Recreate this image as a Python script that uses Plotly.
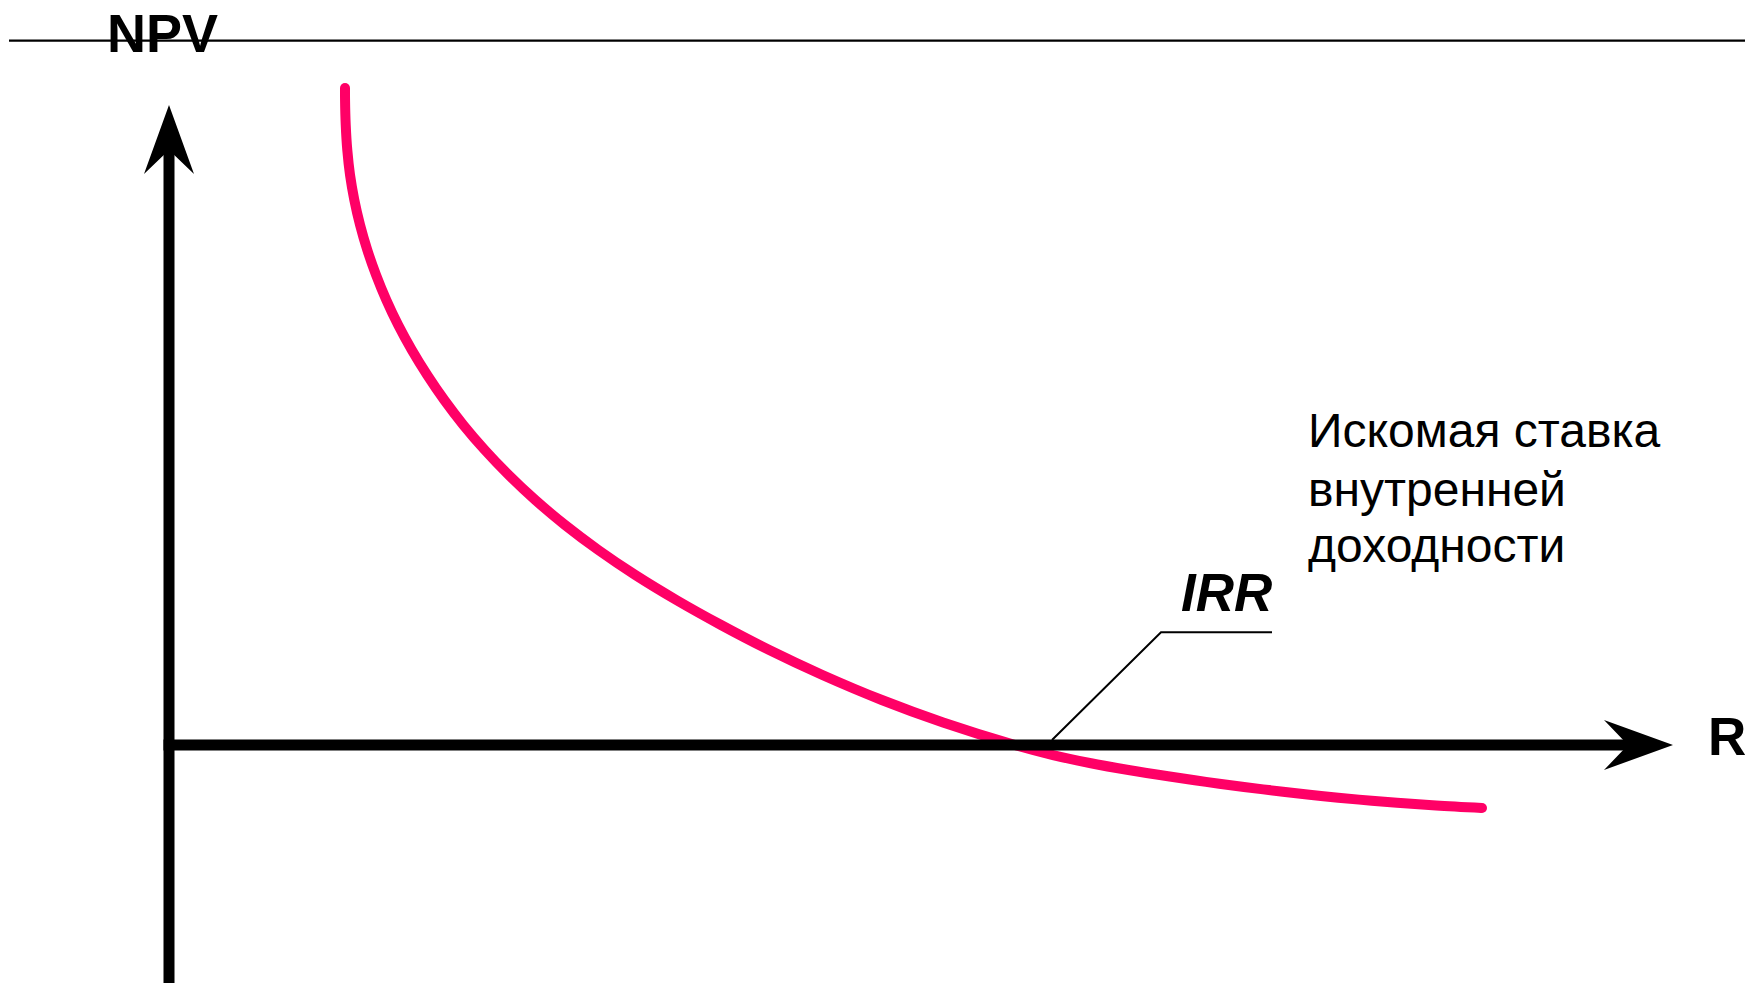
import plotly.graph_objects as go

# ---- data ----
R_RATE = [4.161, 4.162, 4.178, 4.215, 4.280, 4.381, 4.517, 4.688, 4.895, 5.137,
          5.418, 5.740, 6.104, 6.508, 6.960, 7.466, 8.031, 8.660, 9.363, 10.149,
          11.024, 11.993, 13.051, 14.191, 15.447, 16.851, 18.300, 20.000,
          20.898, 21.797, 22.719, 23.617, 24.515, 25.414, 26.336, 27.234,
          28.132, 29.031, 29.953, 31.040]
NPV = [100.31, 98.47, 94.66, 90.84, 87.02, 83.21, 79.39, 75.57, 71.76, 67.94,
       64.12, 60.31, 56.49, 52.67, 48.85, 45.04, 41.22, 37.40, 33.59, 29.77,
       25.95, 22.14, 18.32, 14.50, 10.69, 6.87, 3.44, 0.00,
       -1.53, -2.79, -3.86, -4.78, -5.63, -6.41, -7.13, -7.79,
       -8.34, -8.82, -9.24, -9.62]
IRR_VALUE = 20.0
LABEL_NPV = "NPV"
LABEL_R = "R"
LABEL_IRR = "IRR"
DESC_LINES = ["Искомая ставка", "внутренней", "доходности"]

# ---- layout geometry ----
W, H = 1745, 983
X_PX0, X_SCALE = 169.0, 42.3     # pixel of R=0, pixels per unit
Y_PX0, Y_SCALE = 745.0, 6.55     # pixel of NPV=0, pixels per unit


def dx(px):
    return (px - X_PX0) / X_SCALE


def dy(py):
    return (Y_PX0 - py) / Y_SCALE


PINK = "#FF0066"
BLACK = "#000000"
FONT = "Liberation Sans, Arial, sans-serif"

fig = go.Figure()
fig.add_trace(go.Scatter(
    x=R_RATE, y=NPV, mode="lines",
    line=dict(color=PINK, width=10, shape="spline", smoothing=1.0),
    hoverinfo="skip", showlegend=False))
# round end caps
fig.add_trace(go.Scatter(
    x=[R_RATE[0], R_RATE[-1]], y=[NPV[0], NPV[-1]], mode="markers",
    marker=dict(color=PINK, size=10, line=dict(width=0)),
    hoverinfo="skip", showlegend=False))

shapes = []
# top thin line
shapes.append(dict(type="line", x0=dx(9), x1=dx(W + 5), y0=dy(40.7), y1=dy(40.7),
                   line=dict(color=BLACK, width=2.2), layer="below"))
# vertical axis
shapes.append(dict(type="line", x0=0, x1=0, y0=dy(H + 10), y1=dy(150),
                   line=dict(color=BLACK, width=11)))
# horizontal axis
shapes.append(dict(type="line", x0=dx(163.5), x1=dx(1630), y0=0, y1=0,
                   line=dict(color=BLACK, width=11)))


def path(points):
    return "M " + " L ".join(f"{dx(px)},{dy(py)}" for px, py in points) + " Z"


# up arrowhead
shapes.append(dict(type="path",
                   path=path([(169, 105), (194, 174), (169, 150), (144, 174)]),
                   fillcolor=BLACK, line=dict(width=0)))
# right arrowhead
shapes.append(dict(type="path",
                   path=path([(1673, 745), (1604, 770), (1628, 745), (1604, 720)]),
                   fillcolor=BLACK, line=dict(width=0)))
# IRR leader line (foot just right of the IRR point on the axis)
shapes.append(dict(type="path",
                   path="M {},{} L {},{} L {},{}".format(
                       IRR_VALUE + (1052 - 1015) / X_SCALE, dy(740),
                       dx(1161), dy(632.3), dx(1272), dy(632.3)),
                   line=dict(color=BLACK, width=2)))

annotations = []
annotations.append(dict(x=dx(162), y=dy(33), text=f"<b>{LABEL_NPV}</b>", showarrow=False,
                        xanchor="center", yanchor="middle",
                        font=dict(family=FONT, size=54, color=BLACK)))
annotations.append(dict(x=dx(1706), y=dy(736.5), text=f"<b>{LABEL_R}</b>", showarrow=False,
                        xanchor="left", yanchor="middle",
                        font=dict(family=FONT, size=53, color=BLACK)))
annotations.append(dict(x=dx(1274), y=dy(592.5), text=f"<b><i>{LABEL_IRR}</i></b>", showarrow=False,
                        xanchor="right", yanchor="middle",
                        font=dict(family=FONT, size=53, color=BLACK)))
for line, cy in zip(DESC_LINES, [430.4, 489.4, 545.4]):
    annotations.append(dict(x=dx(1306), y=dy(cy), text=line, showarrow=False,
                            xanchor="left", yanchor="middle",
                            font=dict(family=FONT, size=48, color=BLACK)))

fig.update_layout(
    width=W, height=H, autosize=False,
    margin=dict(l=0, r=0, t=0, b=0, pad=0),
    paper_bgcolor="white", plot_bgcolor="white",
    xaxis=dict(visible=False, range=[dx(0), dx(W)], fixedrange=True),
    yaxis=dict(visible=False, range=[dy(H), dy(0)], fixedrange=True),
    shapes=shapes, annotations=annotations, showlegend=False,
)

fig.write_html("out.html", config={"displayModeBar": False},
               post_script="document.body.style.margin='0px';document.body.style.overflow='hidden';")
